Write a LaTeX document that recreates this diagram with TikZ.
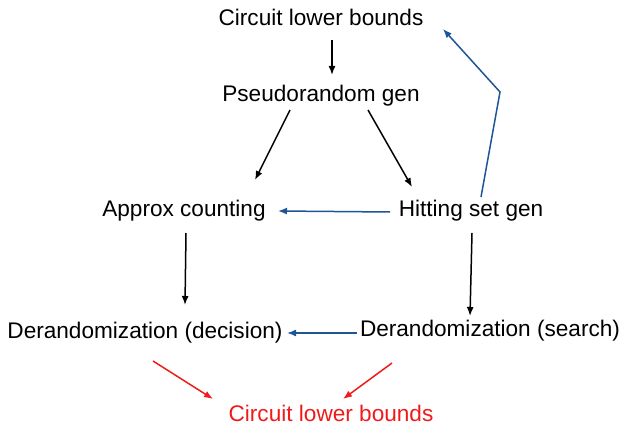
\documentclass[tikz,border=0pt]{standalone}
\usepackage{fontspec}
\setmainfont{Liberation Sans}
\usetikzlibrary{arrows.meta}
\definecolor{linkblue}{HTML}{1F5597}
\definecolor{boundred}{HTML}{F01A1A}
\tikzset{
  lbl/.style={inner sep=0pt, font=\fontsize{22.6}{27}\selectfont},
  arr/.style={line width=1.5pt, -{Latex[length=9pt,width=7pt]}},
  barr/.style={arr, draw=linkblue, -{Latex[length=9pt,width=7pt,color=linkblue]}},
  rarr/.style={arr, draw=boundred}
}

\begin{document}
\begin{tikzpicture}[x=1pt,y=1pt]
\useasboundingbox (0,0) rectangle (623,426);

\node[lbl] (clbtop) at (321,409) {Circuit lower bounds};
\node[lbl] (prg) at (321,330) {Pseudorandom gen};
\node[lbl] (approx) at (184,215) {Approx counting};
\node[lbl] (hsg) at (471,215) {Hitting set gen};
\node[lbl] (dec) at (145,93) {Derandomization (decision)};
\node[lbl] (search) at (490,95) {Derandomization (search)};
\node[lbl, text=boundred] (clbred) at (331,13) {Circuit lower bounds};
\coordinate (bend) at (500,334);

\draw[arr] ([shift={(11,-23)}]clbtop.center) -- ([shift={(11,21)}]prg.center);
\draw[arr] ([shift={(-31,-14)}]prg.center) -- ([shift={(71,31)}]approx.center);
\draw[arr] ([shift={(47,-14)}]prg.center) -- ([shift={(-59,24)}]hsg.center);
\draw[barr] ([shift={(-81,-1)}]hsg.center) -- ([shift={(94,0)}]approx.center);
\draw[barr] ([shift={(10,14)}]hsg.center) -- (bend) -- ([shift={(122,-12)}]clbtop.center);
\draw[arr] ([shift={(2,-22)}]approx.center) -- ([shift={(40,28)}]dec.center);
\draw[arr] ([shift={(1,-22)}]hsg.center) -- ([shift={(-20,15)}]search.center);
\draw[barr] ([shift={(-133,-2)}]search.center) -- ([shift={(142,0)}]dec.center);
\draw[rarr] ([shift={(8,-28)}]dec.center) -- ([shift={(-118,14)}]clbred.center);
\draw[rarr] ([shift={(-98,-32)}]search.center) -- ([shift={(12,14)}]clbred.center);
\end{tikzpicture}
\end{document}
